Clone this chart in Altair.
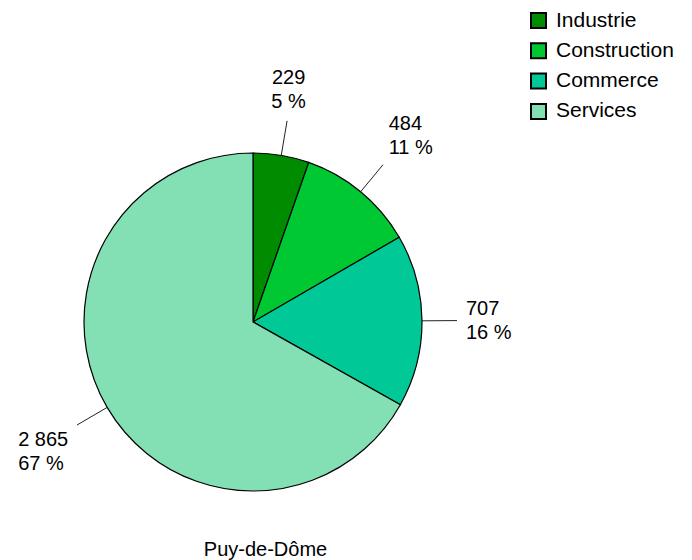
import math
import altair as alt
import pandas as pd

categories = ["Industrie", "Construction", "Commerce", "Services"]
values = [229, 484, 707, 2865]
colors = ["#008C00", "#00C832", "#00C896", "#82E0B4"]
title_text = "Puy-de-Dôme"

CX, CY = 245, 314   # pie centre inside the plot area
R = 169             # pie radius
R_LINE = 204        # end of leader lines
R_TEXT = 213        # label anchor radius
LINE_H = 24

total = sum(values)
rows = []
acc = 0.0
for cat, v in zip(categories, values):
    start = acc / total * 2 * math.pi
    acc += v
    end = acc / total * 2 * math.pi
    mid = (start + end) / 2
    s, c = math.sin(mid), math.cos(mid)
    align = "left" if s > 0.5 else ("right" if s < -0.5 else "center")
    baseline = "bottom" if c > 0.5 else ("top" if c < -0.5 else "middle")
    pct = round(v / total * 100)
    rows.append({
        "cat": cat, "value": v, "start": start, "end": end, "mid": mid,
        "x1": CX + R * s, "y1": CY - R * c,
        "x2": CX + R_LINE * s, "y2": CY - R_LINE * c,
        "label": f"{v:,}".replace(",", " ") + "\n" + f"{pct} %",
        "pos": align + "-" + baseline,
    })
df = pd.DataFrame(rows)

FONT = "Liberation Sans"
base = alt.Chart(df)

pie = base.mark_arc(outerRadius=R, stroke="black", strokeWidth=1.2).encode(
    theta=alt.Theta("start:Q", scale=None),
    theta2="end:Q",
    x=alt.value(CX),
    y=alt.value(CY),
    color=alt.Color(
        "cat:N",
        scale=alt.Scale(domain=categories, range=colors),
        legend=alt.Legend(
            title=None, orient="none", legendX=520, legendY=2,
            symbolType="square", symbolSize=225, symbolStrokeColor="black",
            symbolStrokeWidth=2, symbolOpacity=1,
            labelFont=FONT, labelFontSize=21, labelColor="black",
            labelOffset=7, rowPadding=7.3, padding=0,
        ),
    ),
    order=alt.Order("start:Q"),
)

lines = base.mark_rule(color="#222222", strokeWidth=1).encode(
    x=alt.X("x1:Q", scale=None), y=alt.Y("y1:Q", scale=None),
    x2="x2:Q", y2="y2:Q",
)

layers = [pie, lines]
for pos in df["pos"].unique():
    a, b = pos.split("-")
    dy = {"bottom": -LINE_H, "middle": -LINE_H / 2, "top": 0}[b]
    dx = 0
    if a == "right":
        a, dx = "left", -51
    layers.append(
        base.transform_filter(alt.datum.pos == pos).mark_text(
            align=a, baseline=b, radius=R_TEXT, dx=dx, dy=dy, fontSize=20,
            lineHeight=LINE_H, lineBreak="\n", font=FONT, color="black",
        ).encode(
            theta=alt.Theta("mid:Q", scale=None),
            x=alt.value(CX), y=alt.value(CY),
            text="label:N",
        )
    )

chart = alt.layer(*layers).properties(
    width=676, height=520,
    autosize=alt.AutoSizeParams(type="none"),
    padding={"left": 0, "top": 0, "right": 0, "bottom": 40},
    title=alt.TitleParams(
        title_text, orient="bottom", anchor="middle", dx=-80.5, offset=12,
        fontSize=20, font=FONT, fontWeight="normal", color="black",
    ),
).configure(background="white").configure_view(stroke=None)

chart.save("out.html", embed_options={"renderer": "svg", "actions": False})
